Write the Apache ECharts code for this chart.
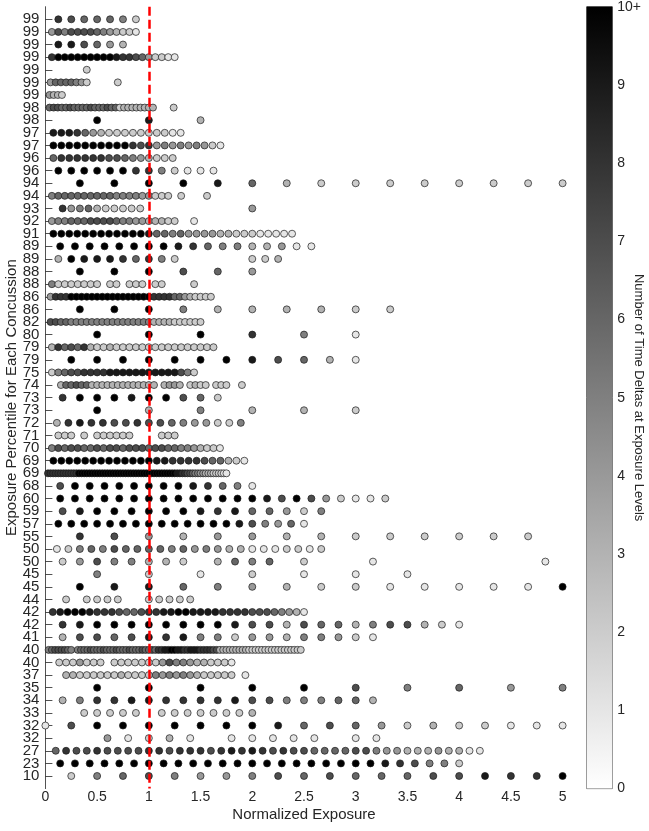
<!DOCTYPE html>
<html>
<head>
<meta charset="utf-8">
<script src="https://cdn.jsdelivr.net/npm/echarts@6/dist/echarts.min.js"></script>
<style>
    html, body { margin: 0; padding: 0; background: #fff; }
    #chart { width: 649px; height: 831px; }
</style>
</head>
<body>
<div id="chart"></div>
<script>
// 每行：标签、步长、起始序号、各点计数（'.' = 无点，'A' = 10+）
var rowLabels = ['99', '99', '99', '99', '99', '99', '99', '98', '98', '97',
                 '97', '96', '96', '94', '94', '93', '92', '91', '89', '89',
                 '88', '88', '86', '86', '82', '80', '79', '79', '75', '74',
                 '73', '73', '72', '71', '70', '69', '69', '68', '60', '59',
                 '57', '55', '50', '50', '45', '45', '44', '42', '42', '41',
                 '40', '40', '37', '35', '34', '33', '32', '32', '27', '23',
                 '10'];

var rowSteps = [1/8, 1/16, 1/8, 1/16, 0.4, 0.05, 0.04, 0.04, 0.5, 1/13,
                1/13, 1/13, 1/8, 1/3, 1/16, 1/12, 1/16, 1/13, 1/7, 1/8,
                1/3, 1/16, 0.05, 1/3, 0.05, 0.5, 1/16, 0.25, 1/16, 0.05,
                1/6, 0.5, 1/9, 1/16, 1/16, 1/13, 1/40, 1/7, 1/7, 1/6,
                1/8, 1/3, 1/9, 1/6, 0.5, 1/3, 0.1, 1/14, 1/6, 1/6,
                1/32, 1/15, 1/15, 0.5, 1/6, 1/8, 0.25, 0.2, 0.1, 1/7,
                0.25];

var rowFirst = [1, 1, 1, 1, 1, 1, 1, 1, 1, 1,
                1, 1, 1, 1, 1, 2, 1, 1, 1, 1,
                1, 1, 1, 1, 1, 1, 1, 1, 1, 3,
                1, 1, 1, 2, 1, 1, 1, 1, 1, 1,
                1, 1, 1, 1, 1, 1, 2, 1, 1, 1,
                1, 2, 3, 1, 1, 3, 0, 3, 1, 1,
                1];

var rowCounts = [
    '8766652',
    '47577776543221',
    '997643',
    '8AAAAAAAAA9887642211',
    '2',
    '46666542.....2',
    '4332',
    '67766766667666766233333333....2',
    'A93',
    '99986432222222211',
    'AAAAAAAAAA878454545421',
    '6888888776543222',
    'AAAAAA8852111',
    'AAAA96322222222',
    '5666666666555544222.2...2',
    '8456322222............4',
    '45566677776554433322..1',
    'AAAAAAAAAAAA9665644443322211111',
    'AAAAAAAA9865533411',
    '3A99986852.....223',
    'AAA764',
    '52222222.22.222.22....2',
    '4888AAAAAAAAAAAAAAAA888866432222',
    'AAA5333322',
    '776655555555555555553333222222',
    'AAA851',
    '38676832232222222222222222',
    'AAAAAAA97631',
    '25677888899999999999752',
    '3667663333333333333.3443.2322.222..2',
    '8AAA9AA762',
    'A35332',
    '38988778776544225',
    '222.2.222222....222',
    '576776676776777677665543221',
    'AAAAAAAAAAAAA998888766321',
    '888888888888AAAAAAAAAAAAAAAAAAAAAAAAAAAAAAAAAAAAAA99887765544333222211',
    '7AAAAAAAA98651',
    'AAAAAAAAAAAAAA97A742112',
    '79AAAAAA98966425',
    'AAAAAAAAAAAAAA975461',
    '87434433222222',
    '125657666656454331112212',
    '24755332.3656.2...1.........1',
    '5212111',
    'A9965432211111A',
    '2.2222..22222',
    '89AAA988876678899AA9999888877765431',
    '89AAAAAAAA97737663577321',
    '3776798955244355421',
    '56777765.56667666766676667666766768899AA998899988887733333333322222222222222222',
    '2224222.222222247554332221',
    '3322222232222545454322222.1',
    'AAAAA75645',
    '3588998888977555663',
    '22222.22222223',
    '17AAAAAAA967642322111',
    '41231.11111.11',
    '687787777887888789898787766667754433343311',
    'AAAAAAAAAAAAAAAAAAAAAA987552',
    '2567544576766677988A'
];

// 色条刻度
var barTicks = ['0', '1', '2', '3', '4', '5', '6', '7', '8', '9', '10+'];

var axisColor = '#262626';
var fontName = 'Liberation Sans, Arial, sans-serif';

/**
 * 计数 -> 灰度
 */
function countColor(v) {
    var g = Math.round(255 * (1 - Math.min(v, 10) / 10));
    return 'rgb(' + g + ',' + g + ',' + g + ')';
}

// 组装散点数据
var points = [];
for (var i = 0; i < rowCounts.length; i++) {
    var s = rowCounts[i];
    for (var j = 0; j < s.length; j++) {
        var c = s.charAt(j);
        if (c === '.') continue;
        var n = c === 'A' ? 10 : parseInt(c, 10);
        points.push([(rowFirst[i] + j) * rowSteps[i], i + 1, n]);
    }
}

var yCats = [''].concat(rowLabels).concat(['']);

var chart = echarts.init(document.getElementById('chart'), null, { renderer: 'canvas' });

var option = {
    animation: false,
    backgroundColor: '#fff',
    textStyle: { fontFamily: fontName },
    grid: [
        { left: 45.4, top: 6.7, width: 517.2, height: 781.9, outerBoundsMode: 'none', containLabel: false },
        { left: 586.7, top: 6.7, width: 25.6, height: 781.9, outerBoundsMode: 'none', containLabel: false,
          show: true, borderColor: axisColor, borderWidth: 0.8, backgroundColor: 'transparent' }
    ],
    xAxis: [{
        type: 'value',
        gridIndex: 0,
        min: 0,
        max: 5,
        interval: 0.5,
        name: 'Normalized Exposure',
        nameLocation: 'middle',
        nameGap: 19,
        nameMoveOverlap: false,
        nameTextStyle: { fontSize: 15, color: axisColor },
        axisLine: { show: false },
        axisTick: { inside: true, length: 7, lineStyle: { color: axisColor, width: 0.8 } },
        axisLabel: { fontSize: 14, color: axisColor, margin: 2 },
        splitLine: { show: false }
    }, {
        type: 'category',
        gridIndex: 1,
        data: [''],
        show: false
    }],
    yAxis: [{
        type: 'category',
        gridIndex: 0,
        data: yCats,
        boundaryGap: false,
        inverse: true,
        name: 'Exposure Percentile for Each Concussion',
        nameLocation: 'middle',
        nameGap: 26,
        nameMoveOverlap: false,
        nameTextStyle: { fontSize: 15, color: axisColor },
        axisLine: { show: true, lineStyle: { color: axisColor, width: 0.8 } },
        axisTick: {
            inside: true,
            length: 7,
            interval: function (idx) { return idx > 0 && idx < yCats.length - 1; },
            lineStyle: { color: axisColor, width: 0.8 }
        },
        axisLabel: { interval: 0, fontSize: 15, color: axisColor, margin: 6 },
        splitLine: { show: false }
    }, {
        type: 'value',
        gridIndex: 1,
        position: 'right',
        min: 0,
        max: 10,
        interval: 1,
        name: 'Number of Time Deltas at Exposure Levels',
        nameLocation: 'middle',
        nameRotate: -90,
        nameGap: 20,
        nameMoveOverlap: false,
        nameTextStyle: { fontSize: 13, color: axisColor },
        axisLine: { show: false },
        axisTick: { inside: true, length: 5, lineStyle: { color: axisColor, width: 0.8 } },
        axisLabel: {
            fontSize: 14,
            color: axisColor,
            margin: 5,
            formatter: function (v) { return barTicks[v]; }
        },
        splitLine: { show: false }
    }],
    series: [{
        type: 'scatter',
        xAxisIndex: 0,
        yAxisIndex: 0,
        data: points,
        symbol: 'circle',
        symbolSize: 7,
        itemStyle: {
            color: function (p) { return countColor(p.value[2]); },
            borderColor: '#1a1a1a',
            borderWidth: 0.7,
            opacity: 1
        },
        markLine: {
            silent: true,
            symbol: ['none', 'none'],
            z: 10,
            label: { show: false },
            lineStyle: { color: '#ff0000', width: 2.5, type: [9, 4] },
            data: [{ xAxis: 1 }]
        }
    }, {
        type: 'bar',
        xAxisIndex: 1,
        yAxisIndex: 1,
        data: [10],
        barWidth: '100%',
        silent: true,
        itemStyle: {
            color: new echarts.graphic.LinearGradient(0, 0, 0, 1, [
                { offset: 0, color: '#000000' },
                { offset: 1, color: '#ffffff' }
            ])
        }
    }]
};

chart.setOption(option);
</script>
</body>
</html>
